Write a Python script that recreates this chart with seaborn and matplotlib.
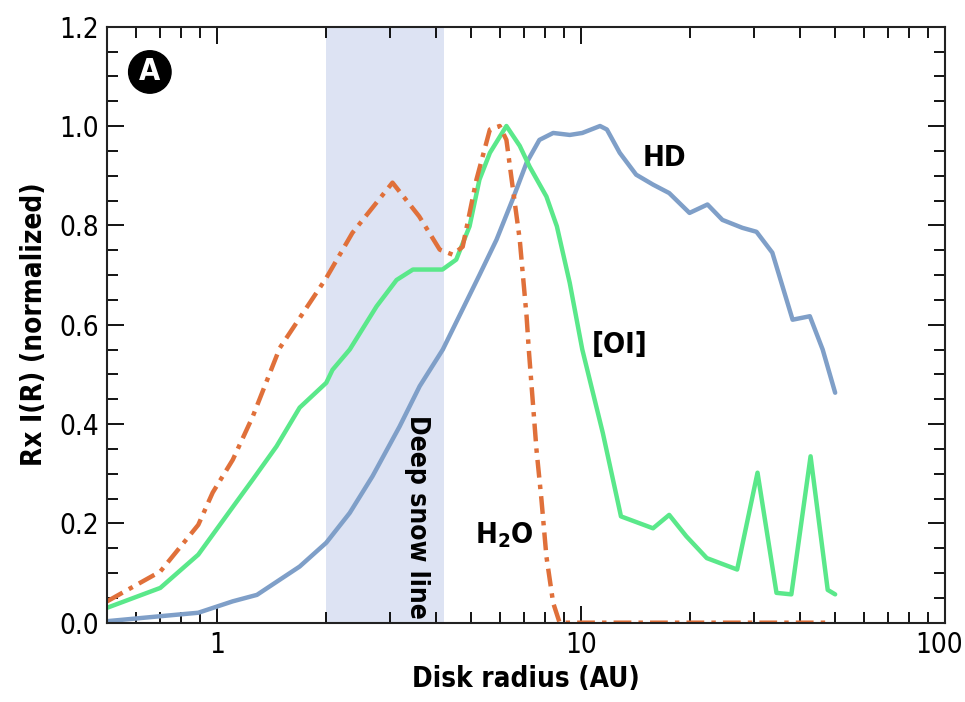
import matplotlib
matplotlib.use("Agg")
import matplotlib.pyplot as plt
import matplotlib.ticker as mticker
import matplotlib.transforms as mtransforms
import numpy as np
import pandas as pd
import seaborn as sns

# --- data ---
h2o_r = [0.5, 0.7, 0.89, 0.975, 1.107, 1.256, 1.49, 2.0, 2.36, 3.04, 3.6, 4.1, 4.45, 4.74,
         5.17, 5.63, 5.99, 6.25, 6.5, 6.8, 7.1, 7.2, 7.56, 7.8, 8.05, 8.4, 8.75, 20, 48]
h2o_v = [0.043, 0.103, 0.197, 0.262, 0.328, 0.415, 0.553, 0.694, 0.785, 0.886, 0.818, 0.751, 0.741, 0.757,
         0.892, 0.993, 1.0, 0.972, 0.878, 0.771, 0.617, 0.55, 0.348, 0.248, 0.133, 0.04, 0.0, 0.0, 0.0]

oi_r = [0.5, 0.7, 0.89, 1.11, 1.256, 1.46, 1.69, 2.0, 2.08, 2.32, 2.75, 3.12, 3.46, 4.17, 4.55,
        4.95, 5.27, 5.63, 6.25, 6.8, 7.24, 8.05, 8.6, 9.33, 10.1, 11.5, 12.9, 15.8, 17.5, 19.5,
        22.2, 26.9, 30.6, 34.5, 37.9, 42.8, 47.7, 50]
oi_v = [0.030, 0.07, 0.137, 0.234, 0.288, 0.355, 0.433, 0.483, 0.509, 0.55, 0.637, 0.69, 0.711, 0.711, 0.731,
        0.798, 0.892, 0.946, 1.0, 0.96, 0.918, 0.858, 0.798, 0.684, 0.55, 0.382, 0.214, 0.19, 0.217, 0.174,
        0.13, 0.107, 0.302, 0.06, 0.057, 0.335, 0.066, 0.057]

hd_r = [0.5, 0.7, 0.89, 1.107, 1.29, 1.69, 2.0, 2.32, 2.68, 3.18, 3.61, 4.18, 5.27, 5.87, 6.5,
        7.1, 7.7, 8.4, 9.33, 10.1, 11.3, 11.8, 12.8, 14.2, 15.8, 17.5, 19.9, 22.3, 24.5, 27.8,
        30.4, 33.6, 38.2, 42.6, 46.2, 50]
hd_v = [0.003, 0.013, 0.02, 0.043, 0.056, 0.113, 0.161, 0.221, 0.295, 0.395, 0.476, 0.55, 0.70, 0.771, 0.852,
        0.926, 0.972, 0.986, 0.982, 0.986, 1.0, 0.993, 0.946, 0.902, 0.882, 0.865, 0.825, 0.842, 0.811, 0.795,
        0.787, 0.745, 0.61, 0.617, 0.55, 0.463]

snow_line = (2.0, 4.2)

sns.set_style("ticks")
plt.rcParams['font.family'] = ['DejaVu Sans']
plt.rcParams['font.stretch'] = 'condensed'
plt.rcParams['text.color'] = 'black'
plt.rcParams['axes.labelcolor'] = 'black'

fig, ax = plt.subplots(figsize=(9.65, 7.02), dpi=100)
fig.subplots_adjust(left=0.111, right=0.979, top=0.962, bottom=0.113)

ax.axvspan(snow_line[0], snow_line[1], color="#dde3f3", lw=0, zorder=0)

hd = pd.DataFrame({"r": hd_r, "v": hd_v})
oi = pd.DataFrame({"r": oi_r, "v": oi_v})
h2o = pd.DataFrame({"r": h2o_r, "v": h2o_v})

sns.lineplot(data=hd, x="r", y="v", ax=ax, color="#7f9fc8", lw=3.2, estimator=None, sort=False)
sns.lineplot(data=oi, x="r", y="v", ax=ax, color="#5ae88a", lw=3.2, estimator=None, sort=False)
sns.lineplot(data=h2o, x="r", y="v", ax=ax, color="#e0703a", lw=3.2, estimator=None, sort=False)
ax.lines[-1].set_dashes([4, 1.6, 1, 1.6])
for ln in ax.lines:
    ln.set_solid_joinstyle("round")
    ln.set_dash_joinstyle("round")

ax.set_xscale("log")
ax.set_xlim(0.5, 100)
ax.set_ylim(0, 1.2)
ax.xaxis.set_major_locator(mticker.FixedLocator([1, 10, 100]))
ax.xaxis.set_major_formatter(mticker.FixedFormatter(["1", "10", "100"]))
ax.xaxis.set_minor_locator(mticker.LogLocator(subs=np.arange(2, 10)))
ax.xaxis.set_minor_formatter(mticker.NullFormatter())
ax.yaxis.set_major_locator(mticker.MultipleLocator(0.2))
ax.yaxis.set_minor_locator(mticker.MultipleLocator(0.05))
ax.yaxis.set_major_formatter(mticker.FormatStrFormatter("%.1f"))

ax.tick_params(which="both", direction="in", top=True, right=True, width=1.3, colors="black")
ax.tick_params(which="major", length=12, labelsize=20, pad=6)
ax.tick_params(which="minor", length=8)
for s in ax.spines.values():
    s.set_linewidth(1.5)
    s.set_color("#222222")

# nudge the "100" label left so it stays inside the figure
lbl = ax.get_xticklabels()[-1]
lbl.set_transform(lbl.get_transform() + mtransforms.ScaledTranslation(-0.06, 0, fig.dpi_scale_trans))

ax.set_xlabel("Disk radius (AU)", fontsize=20, fontweight="bold", labelpad=4)
ax.set_ylabel("Rx I(R) (normalized)", fontsize=20, fontweight="bold", labelpad=8)

ax.text(17.0, 0.936, "HD", fontsize=21, fontweight="bold", ha="center", va="center")
ax.text(12.8, 0.56, "[OI]", fontsize=21, fontweight="bold", ha="center", va="center")
ax.text(6.18, 0.177, "H$_\\mathbf{2}$O", fontsize=21, fontweight="bold", ha="center", va="center")
ax.text(3.55, 0.213, "Deep snow line", fontsize=19, fontweight="bold", ha="center", va="center",
        rotation=270)
ax.text(0.051, 0.924, "A", transform=ax.transAxes, fontsize=22, fontweight="bold", color="white",
        ha="center", va="center",
        bbox=dict(boxstyle="circle,pad=0.22", fc="black", ec="black"))

plt.savefig("out.png", dpi=100)
